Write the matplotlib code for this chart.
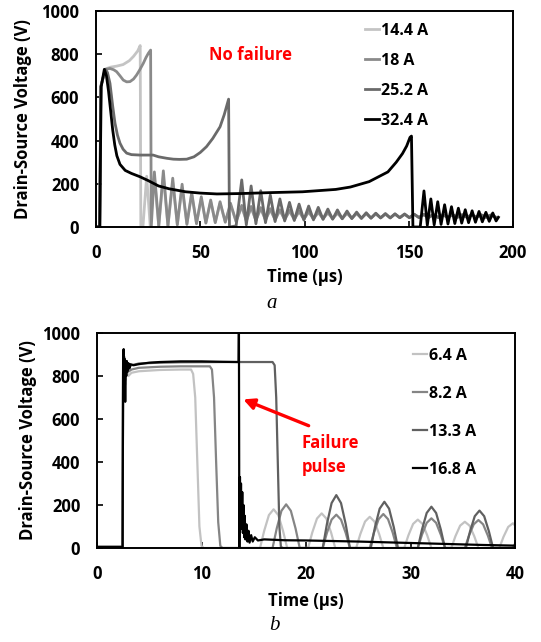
import numpy as np
import matplotlib
matplotlib.use("Agg")
import matplotlib.pyplot as plt

plt.rcParams['font.family'] = ['Open Sans', 'DejaVu Sans']
plt.rcParams['font.weight'] = 'bold'

# ---------------- (a) no failure ----------------
# ringing after turn-off, alternating peak / trough times (us)
ring_t = [28.0, 30.1, 32.3, 34.5, 36.8, 39.0, 41.3, 43.6, 45.9, 48.2,
          50.5, 52.7, 55.0, 57.2, 59.5, 62.0, 64.5, 67.2, 69.9, 72.1,
          74.4, 76.7, 79.0, 81.3, 83.6, 85.9, 88.2, 90.5, 92.8, 95.1,
          97.4, 99.7, 102.0, 104.3, 106.6, 108.9, 111.2, 113.5, 115.8, 118.1,
          120.4, 122.7, 125.0, 127.3, 129.6, 131.9, 134.2, 136.5, 138.8, 141.1,
          143.4, 145.7, 148.0, 150.3, 152.6, 154.9, 157.2, 159.5, 161.8, 164.1,
          166.4, 168.7, 171.0, 173.3, 175.6, 177.9, 180.2, 182.5, 184.8, 187.1,
          189.4, 191.7]

a_labels = ['14.4 A', '18 A', '25.2 A', '32.4 A']
a_colors = ['#c4c4c4', '#8a8a8a', '#6a6a6a', 'black']

t_144 = [0, 1.8, 2.3, 4.3, 5.5, 7, 10, 13, 16, 18, 20, 21.2, 21.5, 22.5, 24.3, 26.0]
v_144 = [0, 0, 650, 730, 735, 740, 745, 752, 770, 790, 815, 840, 0, 0, 235, 5]
ring_144 = [230, 5, 235, 5, 205, 12, 180, 15, 150, 18, 130, 20, 118, 22, 110, 24,
            100, 27, 92, 30, 88, 32, 83, 34, 78, 35, 75, 36, 72, 37, 70, 38,
            68, 39, 66, 40, 64, 40, 63, 41, 62, 41, 61, 42, 60, 42, 59, 43,
            58, 43, 58, 44, 57, 44, 57, 44, 56, 45, 56, 45, 55, 45, 55, 45,
            55, 46, 55, 46, 54, 46, 54, 46]

t_18 = [0, 1.8, 2.3, 4.5, 6.7, 8.5, 9.9, 11.5, 13.1, 14.7, 16.3, 18, 19.5, 21,
        22.7, 24, 25.1, 26.2, 26.5]
v_18 = [0, 0, 650, 730, 734, 728, 719, 700, 680, 672, 673, 685, 704, 728,
        758, 785, 804, 819, 0]
ring_18 = [255, 5, 260, 5, 226, 10, 198, 12, 160, 15, 140, 18, 125, 20, 117, 22,
           110, 25, 100, 28, 95, 30, 90, 32, 85, 33, 80, 34, 77, 35, 74, 36,
           72, 37, 70, 38, 68, 38, 66, 39, 65, 40, 64, 40, 63, 41, 62, 42,
           61, 42, 60, 43, 60, 43, 59, 44, 59, 44, 58, 44, 58, 45, 57, 45,
           57, 45, 56, 45, 56, 45, 56, 45]

t_252 = [0, 1.8, 2.3, 4.5, 5.5, 6.7, 8, 9.1, 10.3, 11.5, 13, 14.7, 17, 21.1,
         25, 27.4, 30, 34, 37.1, 40, 43.5, 47, 50, 53, 56, 59.5, 61.5, 63.6, 64.0]
v_252 = [0, 0, 650, 730, 715, 665, 560, 481, 425, 388, 360, 342, 335, 333,
         333, 333, 325, 318, 314, 313, 314, 325, 345, 372, 410, 464, 520, 592, 0]
# starts at the 67.2 us trough of ring_t
ring_252 = [5, 218, 10, 190, 15, 168, 20, 148, 25, 130, 28, 114, 30, 106, 32,
            97, 33, 91, 35, 83, 36, 79, 38, 74, 39, 69, 40, 66, 41, 64, 42,
            62, 42, 61, 43, 60, 43, 59, 44, 58, 44, 58, 44, 57, 45, 57, 45,
            56, 45, 56, 45, 56, 45, 55, 45]

t_324 = [0, 1.8, 2.1, 2.5, 4.0, 5.0, 6.0, 7.0, 8.0, 9.0, 10.0, 11.5, 14, 17, 21,
         25, 30, 35, 43, 50, 58, 70, 83, 99, 115, 122, 131, 140, 144, 147, 149,
         150.6, 151.3, 152.0,
         155.5, 157.3, 158.9, 160.6, 162.2, 163.9, 165.5, 167.2, 168.8, 170.5,
         172.1, 173.8, 175.4, 177.1, 178.7, 180.4, 182.0, 183.7, 185.3, 187.0,
         188.6, 190.3, 191.9, 193.0]
v_324 = [0, 0, 300, 650, 730, 700, 630, 540, 450, 380, 330, 290, 262, 248, 233,
         215, 190, 177, 163, 157, 153, 155, 159, 163, 174, 185, 210, 255, 300, 340, 375,
         415, 421, 0,
         0, 167, 8, 130, 10, 117, 12, 103, 14, 94,
         16, 87, 18, 80, 20, 75, 22, 72, 24, 68,
         26, 65, 28, 45]

# ---------------- (b) failure ----------------
b_labels = ['6.4 A', '8.2 A', '13.3 A', '16.8 A']
b_colors = ['#c2c2c2', '#858585', '#606060', 'black']

t_64 = [0, 2.45, 2.5, 2.6, 2.7, 2.8, 3.0, 3.3, 4.0, 6.0, 8.0, 9.0, 9.2, 9.4, 9.6, 9.8, 10.0, 10.2,
        15.6, 16.0, 16.45, 16.9, 17.35, 17.8, 18.2,
        20.2, 20.6, 21.05, 21.5, 21.95, 22.4, 22.8,
        24.8, 25.2, 25.65, 26.1, 26.55, 27.0, 27.4,
        29.4, 29.8, 30.25, 30.7, 31.15, 31.6, 32.0,
        33.9, 34.3, 34.75, 35.2, 35.65, 36.1, 36.5,
        38.5, 38.9, 39.35, 39.8, 40.0]
v_64 = [5, 5, 850, 860, 760, 830, 800, 815, 822, 828, 830, 830, 810, 700, 400, 100, 10, 0,
        0, 80, 153, 180, 153, 80, 0,
        0, 72, 137, 161, 137, 72, 0,
        0, 65, 123, 145, 123, 65, 0,
        0, 59, 112, 132, 112, 59, 0,
        0, 55, 104, 122, 104, 55, 0,
        0, 52, 98, 115, 105]

t_82 = [0, 2.45, 2.5, 2.6, 2.7, 2.8, 3.0, 3.3, 4, 6, 8, 10.8, 11.0, 11.2, 11.4, 11.6, 11.8, 12.0,
        16.8, 17.2, 17.65, 18.1, 18.55, 19.0, 19.4,
        21.6, 22.0, 22.45, 22.9, 23.35, 23.8, 24.2,
        26.1, 26.5, 26.95, 27.4, 27.85, 28.3, 28.7,
        30.7, 31.1, 31.55, 32.0, 32.45, 32.9, 33.3,
        35.2, 35.6, 36.05, 36.5, 36.95, 37.4, 37.8,
        39.8, 40.0]
v_82 = [5, 5, 860, 870, 780, 840, 820, 830, 838, 843, 845, 845, 830, 700, 400, 120, 10, 0,
        0, 91, 173, 203, 173, 91, 0,
        0, 70, 132, 155, 132, 70, 0,
        0, 71, 134, 158, 134, 71, 0,
        0, 62, 117, 138, 117, 62, 0,
        0, 58, 110, 130, 110, 58, 0,
        0, 20]

t_133 = [0, 2.45, 2.5, 2.6, 2.7, 2.8, 3.0, 3.3, 4, 6, 8, 12, 16.8, 17.0, 17.15, 17.3, 17.45, 17.6, 17.8,
         21.6, 22.0, 22.45, 22.9, 23.35, 23.8, 24.2,
         26.2, 26.6, 27.05, 27.5, 27.95, 28.4, 28.8,
         30.7, 31.1, 31.55, 32.0, 32.45, 32.9, 33.3,
         35.3, 35.7, 36.15, 36.6, 37.05, 37.5, 37.9,
         39.9, 40.0]
v_133 = [5, 5, 870, 890, 800, 850, 840, 850, 858, 862, 864, 865, 865, 850, 700, 400, 100, 5, 0,
         0, 111, 209, 246, 209, 111, 0,
         0, 97, 183, 215, 183, 97, 0,
         0, 86, 163, 192, 163, 86, 0,
         0, 78, 148, 174, 148, 78, 0,
         0, 10]

t_168 = [0, 2.45, 2.5, 2.55, 2.6, 2.65, 2.7, 2.75, 2.8, 2.85, 2.9, 3.0, 3.1, 3.2, 3.5,
         4.0, 5.0, 6.0, 8.0, 10, 12, 13.55, 13.58, 13.62,
         13.68, 13.72, 13.78, 13.84, 13.9, 13.96, 14.02, 14.08, 14.14, 14.2, 14.3,
         14.4, 14.5, 14.6, 14.75, 14.9, 15.1, 15.4, 16, 17, 18, 20, 22, 25, 28,
         31, 34, 37, 40]
v_168 = [5, 5, 900, 925, 820, 880, 680, 860, 800, 870, 820, 860, 835, 855, 850,
         855, 862, 865, 868, 868, 866, 865, 1050, 0,
         330, 120, 300, 90, 260, 70, 200, 50, 150, 40, 110,
         30, 80, 25, 60, 30, 50, 35, 40, 38, 36, 35, 33, 30, 26,
         22, 18, 14, 11]


def ring_curve(head_t, head_v, tail_t, tail_v):
    return list(head_t) + list(tail_t), list(head_v) + list(tail_v)


fig = plt.figure(figsize=(5.41, 6.42), dpi=100)
ax1 = fig.add_axes([96 / 541, 1 - 227 / 642, 417 / 541, 216 / 642])
ax2 = fig.add_axes([97 / 541, 1 - 548 / 642, 418 / 541, 215 / 642])

curves_a = [
    ring_curve(t_144, v_144, ring_t, ring_144),
    ring_curve(t_18, v_18, ring_t, ring_18),
    ring_curve(t_252, v_252, ring_t[17:], ring_252),
    (t_324, v_324),
]
for (t, v), lab, c in zip(curves_a, a_labels, a_colors):
    ax1.plot(t, v, color=c, lw=2.0, label=lab)

curves_b = [(t_64, v_64), (t_82, v_82), (t_133, v_133), (t_168, v_168)]
for (t, v), lab, c in zip(curves_b, b_labels, b_colors):
    ax2.plot(t, v, color=c, lw=1.6, label=lab)

ax1.set_xlim(0, 200)
ax1.set_xticks([0, 50, 100, 150, 200])
ax2.set_xlim(0, 40)
ax2.set_xticks([0, 10, 20, 30, 40])

for ax in (ax1, ax2):
    ax.set_ylim(0, 1000)
    ax.set_yticks([0, 200, 400, 600, 800, 1000])
    for s in ax.spines.values():
        s.set_linewidth(1.4)
    ax.tick_params(direction='in', length=4, width=1.2, labelsize=12)
    ax.tick_params(axis='y', pad=12)
    ax.tick_params(axis='x', pad=12)
    ax.set_xlabel('Time (µs)', fontsize=12, fontweight='bold')
    ax.set_ylabel('Drain-Source Voltage (V)', fontsize=12, fontweight='bold')

ax1.yaxis.set_label_coords(-0.154, 0.5)
ax2.yaxis.set_label_coords(-0.144, 0.5)
ax1.xaxis.set_label_coords(0.5, -0.19)
ax2.xaxis.set_label_coords(0.5, -0.203)

leg1 = ax1.legend(loc='upper left', bbox_to_anchor=(0.645, 0.945), frameon=False,
                  handlelength=0.9, handletextpad=0.1, labelspacing=0.88,
                  borderpad=0, borderaxespad=0, prop={'size': 11.5, 'weight': 'bold'})
leg2 = ax2.legend(loc='upper left', bbox_to_anchor=(0.755, 0.932), frameon=False,
                  handlelength=0.9, handletextpad=0.1, labelspacing=1.38,
                  borderpad=0, borderaxespad=0, prop={'size': 11.5, 'weight': 'bold'})

ax1.text(74.3, 796, 'No failure', color='red', fontsize=12, fontweight='bold',
         ha='center', va='center')

ax2.annotate('', xy=(13.75, 696), xytext=(20.5, 564),
             arrowprops=dict(arrowstyle='-|>', color='red', lw=2.4, mutation_scale=16))
ax2.text(19.6, 434, 'Failure\npulse', color='red', fontsize=12, fontweight='bold',
         ha='left', va='center', linespacing=1.45)

fig.text(272 / 541, 1 - 303 / 642, 'a', fontsize=15, style='italic', fontweight='normal',
         family='Liberation Serif', ha='center', va='center')
fig.text(274 / 541, 1 - 625 / 642, 'b', fontsize=15, style='italic', fontweight='normal',
         family='Liberation Serif', ha='center', va='center')

fig.savefig('out.png', dpi=100)
